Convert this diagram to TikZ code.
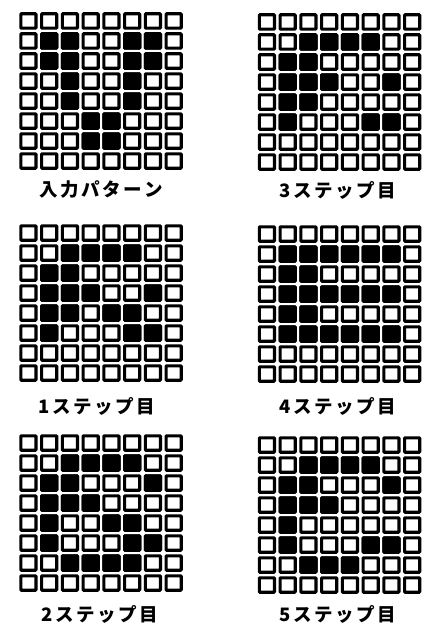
\documentclass[tikz,border=0pt]{standalone}
\usepackage{fontspec}
\newfontfamily\jpfont[LetterSpace=14]{Noto Sans CJK JP}
\tikzset{
  cellbox/.style={draw=black, fill=white, line width=3.2pt, rounded corners=0.6pt},
  cellon/.style={draw=black, fill=black, line width=3.2pt, rounded corners=0.6pt},
  lab/.style={font=\jpfont\bfseries\fontsize{18.5pt}{18.5pt}\selectfont, inner sep=0pt, anchor=center}
}
\newcommand\cellgrid[3]{%
  \foreach \rr in {1,...,8}{\foreach \cc in {1,...,8}{%
    \path[cellbox] ({#1+(\cc-1)*20.75+2.85},{#2+(\rr-1)*20+2.85}) rectangle ++(15.05,14.3);}}
  \foreach \rr/\cc in {#3}{%
    \path[cellon] ({#1+(\cc-1)*20.75+2.85},{#2+(\rr-1)*20+2.85}) rectangle ++(15.05,14.3);}
}
\begin{document}
\begin{tikzpicture}[x=1pt,y=-1pt]
\useasboundingbox (0,0) rectangle (422,626);
% input pattern
\cellgrid{18}{11}{2/2,2/3,2/6,2/7,3/2,3/3,3/6,3/7,4/3,4/6,5/3,5/6,6/4,6/5,7/4,7/5}
\node[lab] (l0) at (101,190) {入力パターン};
% step 3
\cellgrid{256.5}{12}{2/3,2/4,2/5,2/6,3/2,3/3,4/2,4/3,4/4,4/7,5/2,5/3,6/2,6/6,6/7}
\node[lab] (l3) at (338,190) {3ステップ目};
% step 1
\cellgrid{18}{223}{2/3,2/4,2/5,2/6,3/2,3/3,4/2,4/3,4/4,4/7,5/2,5/3,5/5,5/6,6/2,6/6,6/7}
\node[lab] (l1) at (97,406) {1ステップ目};
% step 4
\cellgrid{256.5}{224}{2/2,2/3,2/4,2/5,2/6,2/7,3/2,3/3,4/2,4/3,4/4,4/5,4/6,4/7,5/2,5/3,6/2,6/3,6/4,6/5,6/6,6/7}
\node[lab] (l4) at (338,406) {4ステップ目};
% step 2
\cellgrid{18}{433}{2/3,2/4,2/5,2/6,3/2,3/3,3/7,4/2,4/3,4/4,5/2,5/5,5/6,6/2,6/6,6/7,7/3,7/4,7/5,7/6}
\node[lab] (l2) at (100,614) {2ステップ目};
% step 5
\cellgrid{256.5}{435}{2/3,2/4,2/5,2/6,3/2,3/3,3/7,4/2,4/3,4/4,5/2,6/2,6/6,6/7,7/3,7/4,7/5}
\node[lab] (l5) at (338,614) {5ステップ目};
\end{tikzpicture}
\end{document}
